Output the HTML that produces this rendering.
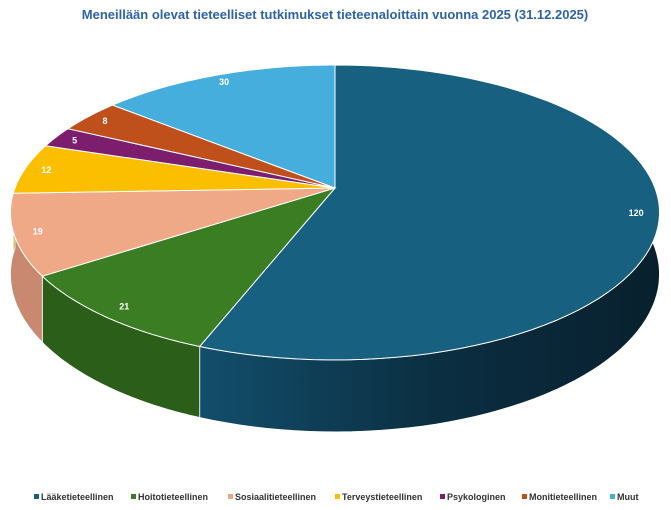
<!DOCTYPE html>
<html><head><meta charset="utf-8"><style>
body{margin:0;background:#fff;}
svg{display:block;font-family:"Liberation Sans",sans-serif;}
</style></head><body>
<svg id="c" width="671" height="510">
<defs>
<linearGradient id="g0" x1="0" x2="1" y1="0" y2="0"><stop offset="0" stop-color="#124e6c"/><stop offset="0.5" stop-color="#0b2f42"/><stop offset="1" stop-color="#08202e"/></linearGradient>
</defs>
<text x="335" y="19" text-anchor="middle" font-size="13" font-weight="bold" fill="#2e63a6">Meneillään olevat tieteelliset tutkimukset tieteenaloittain vuonna 2025 (31.12.2025)</text>
<g id="sides"></g><g id="tops"></g><g id="labels"></g><g id="legend"></g>
</svg>
<script>
const categories=["Lääketieteellinen","Hoitotieteellinen","Sosiaalitieteellinen","Terveystieteellinen","Psykologinen","Monitieteellinen","Muut"];
const values=[120,21,19,12,5,8,30];
const colors=["#17607f","#3b7d23","#f0a987","#fcbf00","#7c1d6e","#c0501b","#45aedd"];
const sideColors=["url(#g0)","#2a5e19","#c98970","#c99800","#5a1450","#8c3a14","#3388b0"];
const cx=335,cy=188,rx=320,ry=143.4,k=0.166,depth=60;
const NS="http://www.w3.org/2000/svg";
function proj(th,r){const u=Math.sin(th)*r,v=-Math.cos(th)*r;const s=1/(1-k*v);return [cx+rx*u*s,cy+ry*v*s,s];}
const total=values.reduce((a,b)=>a+b,0);
let a=0;const slices=values.map(v=>{const s=a;a+=v/total*2*Math.PI;return [s,a];});
const sides=document.getElementById('sides'),tops=document.getElementById('tops'),labels=document.getElementById('labels');
slices.forEach(([s,e],i)=>{
  const ss=Math.max(s,Math.PI/2-0.3),ee=Math.min(e,3*Math.PI/2);
  if(ee>ss){let top=[],bot=[];const n=60;
    for(let j=0;j<=n;j++){const t=ss+(ee-ss)*j/n;const p=proj(t,1);top.push(p);bot.push([p[0],p[1]+depth*p[2]]);}
    const d="M"+top.map(p=>p[0].toFixed(1)+","+p[1].toFixed(1)).join("L")+"L"+bot.reverse().map(p=>p[0].toFixed(1)+","+p[1].toFixed(1)).join("L")+"Z";
    const el=document.createElementNS(NS,'path');el.setAttribute('d',d);el.setAttribute('fill',sideColors[i]);el.setAttribute('stroke','#fff');el.setAttribute('stroke-width','0.8');
    
    
    sides.appendChild(el);}
  let pts=[];const n=80;for(let j=0;j<=n;j++){pts.push(proj(s+(e-s)*j/n,1));}
  const d="M"+cx+","+cy+"L"+pts.map(p=>p[0].toFixed(1)+","+p[1].toFixed(1)).join("L")+"Z";
  const el=document.createElementNS(NS,'path');el.setAttribute('d',d);el.setAttribute('fill',colors[i]);el.setAttribute('stroke','#fff');el.setAttribute('stroke-width','1');
  
  
  tops.appendChild(el);
  const lp=proj((s+e)/2,0.93);
  const t=document.createElementNS(NS,'text');t.setAttribute('x',lp[0]);t.setAttribute('y',lp[1]+3);t.setAttribute('text-anchor','middle');t.setAttribute('font-size','9');t.setAttribute('font-weight','bold');t.setAttribute('fill','#fff');t.textContent=values[i];
  
  
  labels.appendChild(t);
});
const lg=document.getElementById('legend');const lx=[34,131,228,335,440,522,610];
categories.forEach((c,i)=>{
  const g=document.createElementNS(NS,'g');
  
  
  const r=document.createElementNS(NS,'rect');r.setAttribute('x',lx[i]);r.setAttribute('y',494);r.setAttribute('width',5);r.setAttribute('height',5);r.setAttribute('fill',colors[i]);g.appendChild(r);
  const t=document.createElementNS(NS,'text');t.setAttribute('x',lx[i]+7);t.setAttribute('y',500);t.setAttribute('font-size','9');t.setAttribute('font-weight','bold');t.setAttribute('fill','#333');t.textContent=c;g.appendChild(t);
  lg.appendChild(g);
});
</script>
</body></html>
